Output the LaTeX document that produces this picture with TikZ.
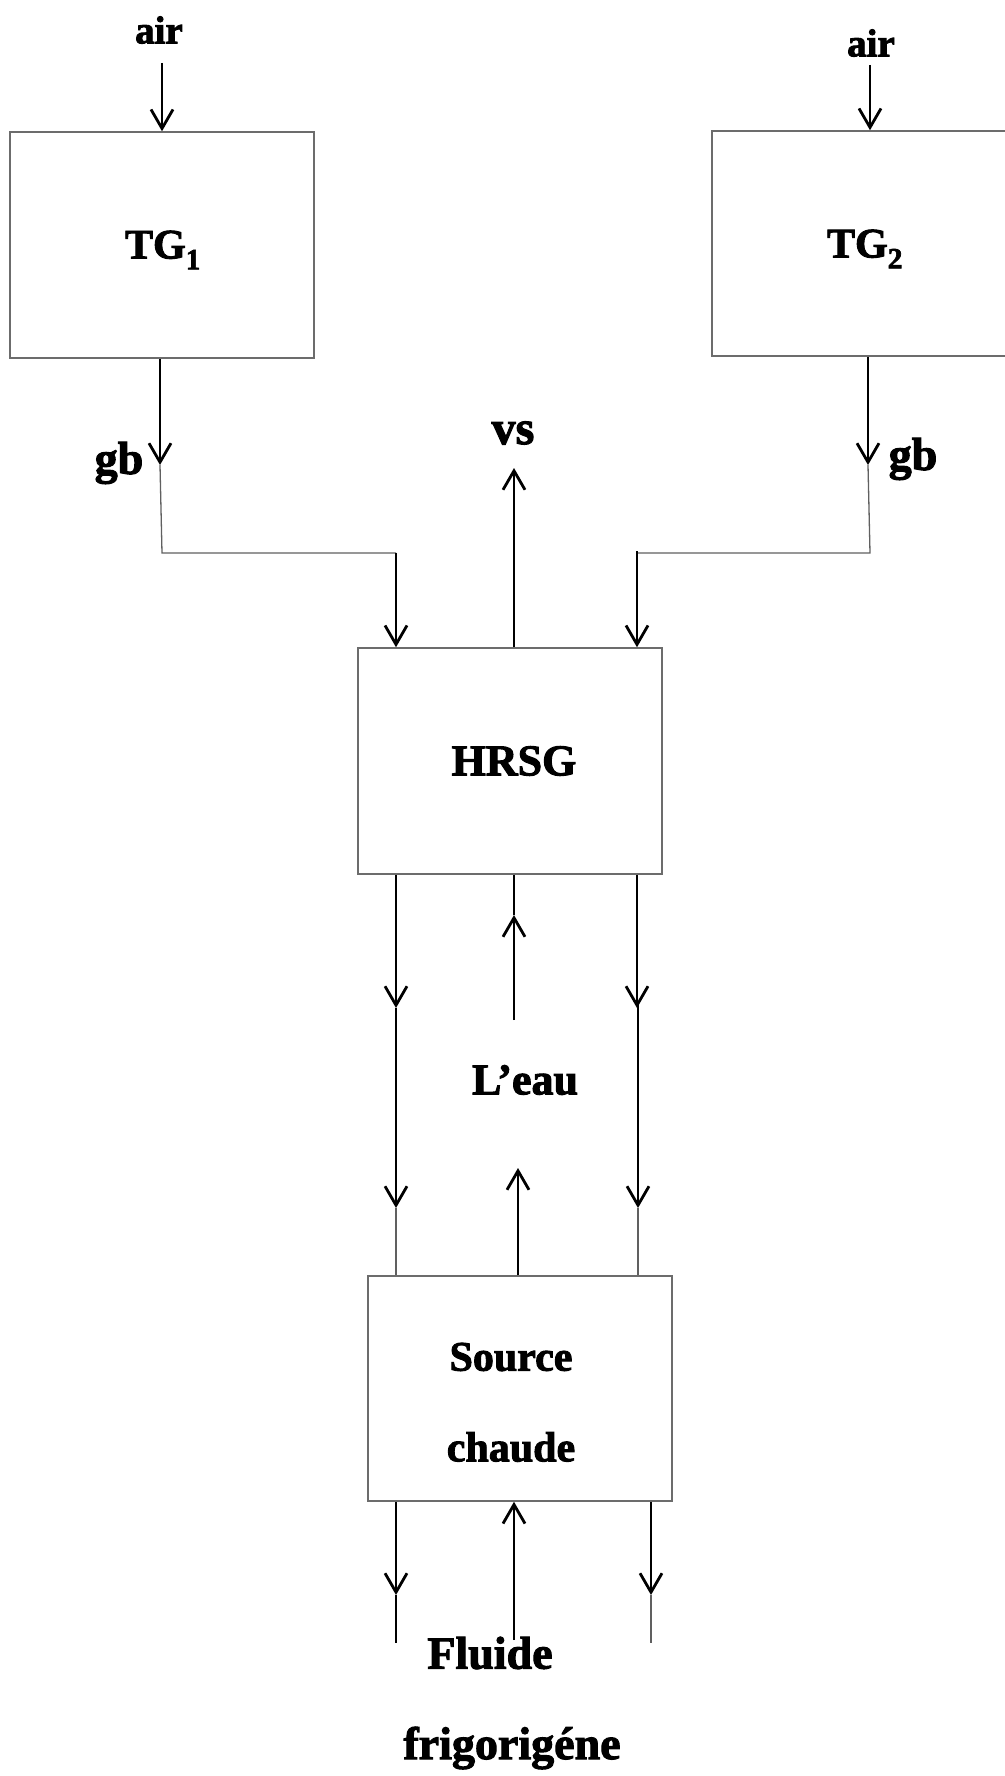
\documentclass[tikz,border=0pt]{standalone}
\usepackage{fontspec}
\setmainfont{Liberation Serif}[BoldFeatures={FakeBold=2.2}]
\usetikzlibrary{arrows.meta}
\begin{document}
\begin{tikzpicture}[x=1pt,y=-1pt,
  box/.style={draw=gray!85!black,line width=1.5pt,minimum width=#1,inner sep=0pt},
  lbl/.style={font=\fontsize{44}{50}\selectfont\bfseries,inner sep=0pt},
  arr/.style={line width=2.8pt,-{Straight Barb[length=19pt,width=22pt]}},
  thinline/.style={line width=1.3pt,gray!75!black},
  midline/.style={line width=1.8pt}]
\path[use as bounding box] (0,0) rectangle (1004,1776);
% boxes
\node[box=304pt,minimum height=226pt] (tg1) at (162,245) {};
\node[lbl,font=\fontsize{42}{50}\selectfont\bfseries] (tg1t) at (163,250) {TG\textsubscript{1}};
\node[box=300pt,minimum height=225pt] (tg2) at (862,243.5) {};
\node[lbl,font=\fontsize{42}{50}\selectfont\bfseries] (tg2t) at (865,249) {TG\textsubscript{2}};
\node[box=304pt,minimum height=226pt] (hrsg) at (510,761) {};
\node[lbl] (hrsgt) at (514,761) {HRSG};
\node[box=304pt,minimum height=225pt] (src) at (520,1388.5) {};
\node[lbl,font=\fontsize{42}{50}\selectfont\bfseries] (src1) at (511,1357) {Source};
\node[lbl,font=\fontsize{42}{50}\selectfont\bfseries] (src2) at (511,1447) {chaude};
% labels
\node[lbl,font=\fontsize{39}{50}\selectfont\bfseries] (air1) at (159,30) {air};
\node[lbl,font=\fontsize{39}{50}\selectfont\bfseries] (air2) at (871,43) {air};
\node[lbl,font=\fontsize{46}{50}\selectfont\bfseries] (gb1) at (119,463) {gb};
\node[lbl,font=\fontsize{46}{50}\selectfont\bfseries] (gb2) at (913,459) {gb};
\node[lbl,font=\fontsize{48}{50}\selectfont\bfseries] (vs) at (513,433) {vs};
\node[lbl] (eau) at (525,1080) {L’eau};
\node[lbl,font=\fontsize{46}{50}\selectfont\bfseries] (fl1) at (490,1653) {Fluide};
\node[lbl,font=\fontsize{46}{50}\selectfont\bfseries] (fl2) at (512,1748) {frigorigéne};
% coordinates
\coordinate (a1s) at (162,63);
\coordinate (a2s) at (870,65);
\coordinate (g1tip) at (160,465);
\coordinate (g1c) at (162,553);
\coordinate (h1) at (396,553);
\coordinate (g2tip) at (868,465);
\coordinate (g2c) at (870,553);
\coordinate (h2) at (637,553);
\coordinate (vtip) at (514,468);
\coordinate (l1) at (396,1008);
\coordinate (l2) at (396,1208);
\coordinate (r1) at (637,1008);
\coordinate (r2) at (638,1208);
\coordinate (m1) at (514,1020);
\coordinate (m2) at (514,915);
\coordinate (m3) at (518,1168);
\coordinate (bl1) at (396,1595);
\coordinate (bl2) at (396,1643);
\coordinate (br1) at (651,1595);
\coordinate (br2) at (651,1643);
\coordinate (bm) at (514,1640);
% air inputs
\draw[arr] (a1s) -- (a1s |- tg1.north);
\draw[arr] (a2s) -- (a2s |- tg2.north);
% exhaust gases
\draw[arr] (g1tip |- tg1.south) -- (g1tip);
\draw[thinline] (g1tip) -- (g1c) -- (h1);
\draw[arr] (h1) -- (h1 |- hrsg.north);
\draw[arr] (g2tip |- tg2.south) -- (g2tip);
\draw[thinline] (g2tip) -- (g2c) -- (h2);
\draw[arr] ([yshift=2pt]h2) -- (h2 |- hrsg.north);
% steam
\draw[arr] (vtip |- hrsg.north) -- (vtip);
% HRSG <-> source
\draw[arr] (l1 |- hrsg.south) -- (l1);
\draw[arr] (l1) -- (l2);
\draw[thinline] (l2) -- (l2 |- src.north);
\draw[arr] (r1 |- hrsg.south) -- (r1);
\draw[arr] ([yshift=4pt]r1 -| r2) -- (r2);
\draw[thinline] (r2) -- (r2 |- src.north);
\draw[arr] (m1) -- (m2);
\draw[midline] (m2) -- (m2 |- hrsg.south);
\draw[arr] (m3 |- src.north) -- (m3);
% source outputs
\draw[arr] (bl1 |- src.south) -- (bl1);
\draw[midline] (bl1) -- (bl2);
\draw[arr] (br1 |- src.south) -- (br1);
\draw[thinline] (br1) -- (br2);
\draw[arr] (bm) -- (bm |- src.south);
\end{tikzpicture}
\end{document}
